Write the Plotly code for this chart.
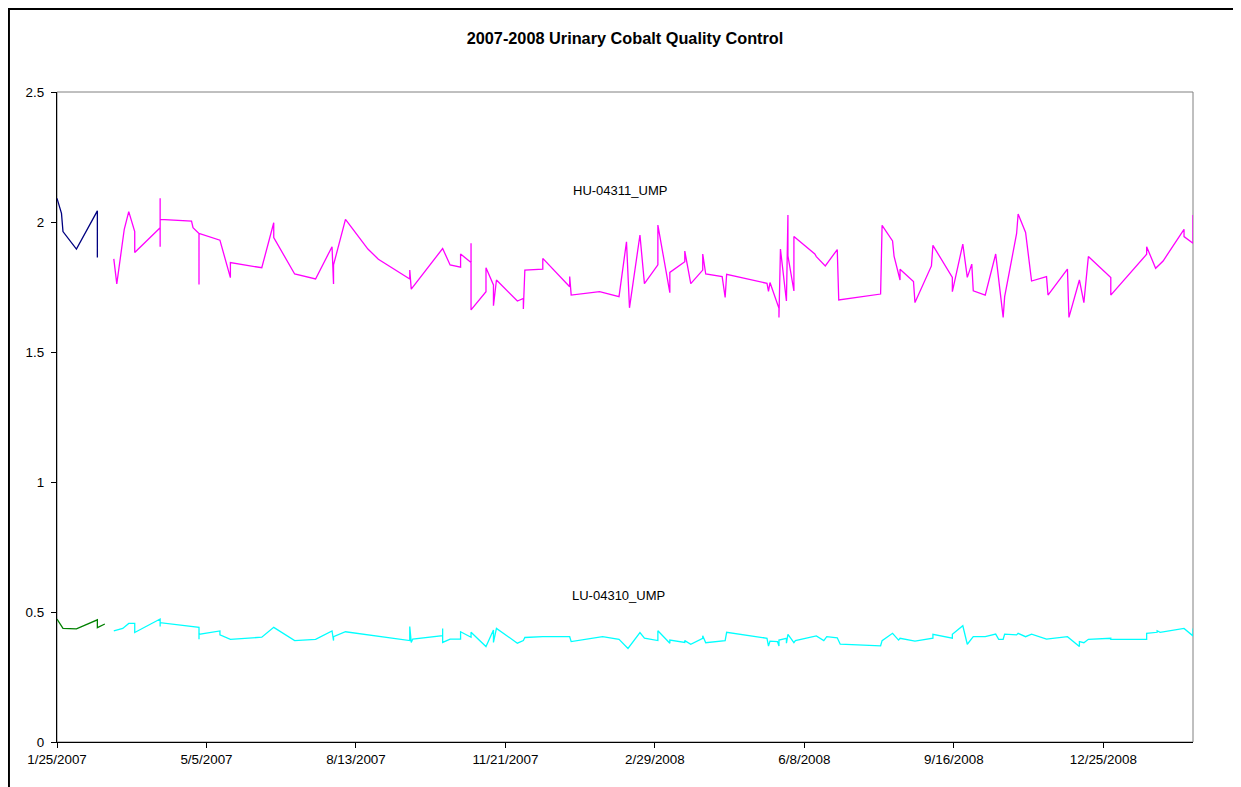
import pandas as pd
import plotly.graph_objects as go

# days since 1/25/2007 for each QC run, and the measured cobalt value
start = pd.Timestamp("2007-01-25")

hu_early_days = [0, 3, 4, 13, 27, 27]
hu_early_vals = [2.091, 2.033, 1.963, 1.896, 2.043, 1.863]

lu_early_days = [0, 4, 13, 27, 27, 32]
lu_early_vals = [0.473, 0.437, 0.435, 0.470, 0.440, 0.454]

hu_days = [38, 40, 45, 48, 52, 52, 69, 69, 69, 69,
           90, 91, 95, 95, 95, 109, 116, 116, 137, 145,
           145, 159, 173, 184, 185, 185, 193, 208, 215, 236,
           236, 237, 258, 263, 270, 270, 277, 277, 277, 287,
           287, 292, 292, 294, 308, 312, 312, 313, 325, 325,
           343, 343, 344, 363, 376, 381, 383, 390, 393, 402,
           402, 410, 410, 420, 420, 424, 432, 432, 434, 445,
           447, 448, 475, 476, 477, 483, 483, 484, 488, 489,
           489, 493, 493, 507, 508, 514, 522, 523, 551, 552,
           559, 560, 564, 564, 573, 574, 585, 586, 599, 599,
           606, 609, 612, 613, 621, 628, 633, 634, 642, 643,
           648, 652, 662, 663, 676, 677, 684, 687, 690, 705,
           705, 729, 729, 735, 740, 754, 754, 760, 760]
hu_vals = [1.858, 1.762, 1.972, 2.040, 1.963, 1.883, 1.978, 1.905, 2.091, 2.010,
           2.003, 1.978, 1.956, 1.760, 1.956, 1.930, 1.786, 1.844, 1.824, 1.997,
           1.940, 1.800, 1.781, 1.905, 1.762, 1.835, 2.010, 1.896, 1.857, 1.781,
           1.815, 1.742, 1.898, 1.835, 1.826, 1.877, 1.844, 1.918, 1.662, 1.732,
           1.824, 1.758, 1.678, 1.777, 1.696, 1.706, 1.665, 1.815, 1.819, 1.860,
           1.751, 1.790, 1.719, 1.732, 1.713, 1.924, 1.670, 1.950, 1.763, 1.835,
           1.988, 1.728, 1.806, 1.847, 1.888, 1.763, 1.815, 1.877, 1.800, 1.790,
           1.710, 1.799, 1.764, 1.733, 1.767, 1.668, 1.633, 1.896, 1.696, 2.027,
           1.870, 1.735, 1.944, 1.877, 1.867, 1.831, 1.894, 1.700, 1.723, 1.987,
           1.927, 1.869, 1.777, 1.818, 1.771, 1.690, 1.831, 1.910, 1.787, 1.732,
           1.915, 1.787, 1.838, 1.735, 1.719, 1.877, 1.633, 1.713, 1.956, 2.031,
           1.960, 1.773, 1.790, 1.719, 1.819, 1.633, 1.777, 1.690, 1.867, 1.786,
           1.719, 1.876, 1.905, 1.822, 1.850, 1.972, 1.944, 1.918, 2.027]

lu_days = [38, 44, 48, 52, 52, 69, 69, 69, 95, 95,
           95, 109, 109, 116, 137, 145, 159, 173, 184, 185,
           185, 193, 236, 236, 237, 238, 258, 258, 258, 263,
           270, 270, 277, 277, 287, 292, 292, 294, 308, 312,
           313, 325, 343, 344, 365, 376, 382, 390, 393, 402,
           402, 410, 410, 420, 420, 424, 432, 432, 434, 447,
           448, 475, 476, 477, 482, 483, 483, 488, 488, 489,
           493, 494, 508, 513, 515, 522, 524, 551, 552, 559,
           563, 564, 574, 586, 586, 599, 599, 606, 609, 613,
           621, 628, 630, 633, 634, 642, 643, 648, 652, 662,
           676, 684, 684, 687, 690, 705, 705, 729, 729, 736,
           736, 738, 754, 760, 760]
lu_vals = [0.427, 0.437, 0.456, 0.456, 0.421, 0.473, 0.444, 0.459, 0.441, 0.395,
           0.414, 0.427, 0.412, 0.395, 0.403, 0.441, 0.390, 0.395, 0.427, 0.390,
           0.405, 0.424, 0.390, 0.444, 0.383, 0.396, 0.409, 0.437, 0.383, 0.396,
           0.396, 0.424, 0.403, 0.422, 0.367, 0.431, 0.383, 0.437, 0.380, 0.390,
           0.402, 0.405, 0.405, 0.386, 0.405, 0.395, 0.360, 0.421, 0.399, 0.390,
           0.428, 0.380, 0.392, 0.383, 0.390, 0.376, 0.399, 0.409, 0.382, 0.390,
           0.422, 0.399, 0.369, 0.388, 0.386, 0.369, 0.392, 0.399, 0.380, 0.414,
           0.382, 0.390, 0.408, 0.390, 0.405, 0.401, 0.376, 0.370, 0.390, 0.418,
           0.392, 0.399, 0.388, 0.399, 0.414, 0.399, 0.414, 0.447, 0.376, 0.405,
           0.405, 0.415, 0.395, 0.395, 0.415, 0.412, 0.418, 0.405, 0.415, 0.396,
           0.405, 0.367, 0.386, 0.382, 0.395, 0.399, 0.395, 0.395, 0.418, 0.422,
           0.428, 0.422, 0.437, 0.408, 0.437]

tick_days = [0, 100, 200, 300, 400, 500, 600, 700]
tick_labels = ["1/25/2007", "5/5/2007", "8/13/2007", "11/21/2007",
               "2/29/2008", "6/8/2008", "9/16/2008", "12/25/2008"]
end_day = 760


def to_dates(days):
    return start + pd.to_timedelta(days, unit="D")


FONT = "Arial, Liberation Sans, sans-serif"

fig = go.Figure()

series = [
    (hu_early_days, hu_early_vals, "#000080"),
    (hu_days, hu_vals, "#FF00FF"),
    (lu_early_days, lu_early_vals, "#008000"),
    (lu_days, lu_vals, "#00FFFF"),
]
for days, vals, color in series:
    fig.add_trace(go.Scatter(
        x=to_dates(days), y=vals, mode="lines",
        line=dict(color=color, width=1.3), showlegend=False
    ))

fig.update_xaxes(
    type="date",
    range=[to_dates([0])[0], to_dates([end_day])[0]],
    tickvals=to_dates(tick_days), ticktext=tick_labels,
    showgrid=False, zeroline=False,
    showline=True, linecolor="black", linewidth=1.3,
    ticks="outside", ticklen=5, tickcolor="black",
    tickfont=dict(family=FONT, size=13.4, color="black"),
)
fig.update_yaxes(
    range=[0, 2.5], tickvals=[0, 0.5, 1, 1.5, 2, 2.5],
    showgrid=False, zeroline=False,
    showline=True, linecolor="black", linewidth=1.3,
    ticks="outside", ticklen=5, tickcolor="black", ticklabelstandoff=4,
    tickfont=dict(family=FONT, size=13.4, color="black"),
)

# plot area frame (grey) and outer chart border (black)
fig.add_shape(type="rect", xref="paper", yref="paper", x0=0, x1=1, y0=0, y1=1,
              line=dict(color="#808080", width=1), layer="below")
fig.add_shape(type="rect", xref="paper", yref="paper",
              x0=-0.0423, x1=1.0396, y0=-0.09, y1=1.1277,
              line=dict(color="black", width=2))

fig.add_annotation(text="HU-04311_UMP", xref="paper", yref="paper",
                   x=0.4956, y=0.849, showarrow=False,
                   xanchor="center", yanchor="middle",
                   font=dict(family=FONT, size=13, color="black"))
fig.add_annotation(text="LU-04310_UMP", xref="paper", yref="paper",
                   x=0.4947, y=0.226, showarrow=False,
                   xanchor="center", yanchor="middle",
                   font=dict(family=FONT, size=13, color="black"))

fig.update_layout(
    width=1233, height=779,
    margin=dict(l=49, r=48, t=84, b=45, autoexpand=False),
    paper_bgcolor="white", plot_bgcolor="white",
    title=dict(text="<b>2007-2008 Urinary Cobalt Quality Control</b>",
               x=0.5, xref="paper", y=1 - 30 / 779, yanchor="middle",
               font=dict(family=FONT, size=16.3, color="black")),
    hovermode=False,
)

fig.write_html("out.html")
